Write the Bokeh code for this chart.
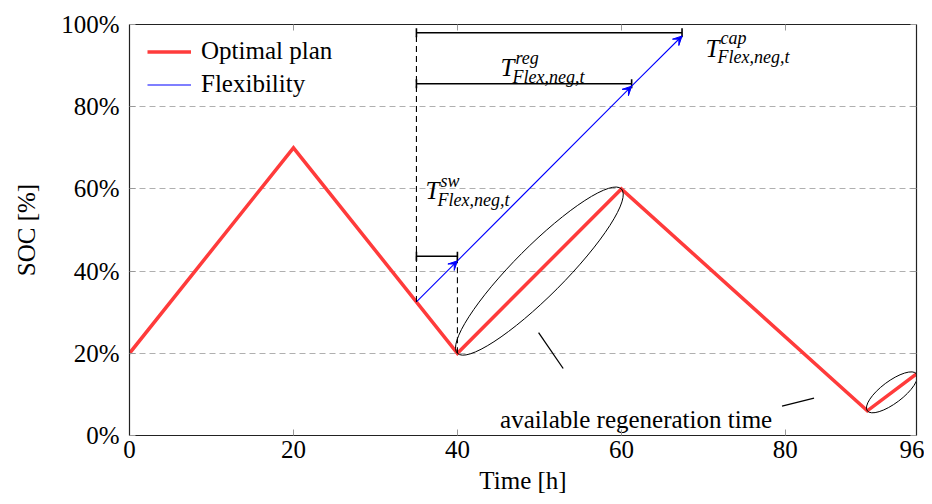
import math
from bokeh.plotting import figure
from bokeh.models import (Range1d, FixedTicker, LinearAxis, Legend, LegendItem,
                          Whisker, TeeHead, Arrow, VeeHead, ColumnDataSource)
from bokeh.core.properties import value
from bokeh.embed import file_html
from bokeh.resources import INLINE

# ---------------- data ----------------
plan_t = [0, 20, 40, 60, 90, 96]
plan_soc = [20, 70, 20, 60, 6, 15]

flex_t = [35, 40, 61.25, 67.4]
flex_soc = [32.5, 42.5, 85, 97.2]
flex_stub_t = [0, 1]
flex_stub_soc = [0, 0]

x_ticks = [0, 20, 40, 60, 80, 96]
x_tick_labels = ["0", "20", "40", "60", "80", "96"]
y_ticks = [0, 20, 40, 60, 80, 100]
y_tick_labels = ["0%", "20%", "40%", "60%", "80%", "100%"]
grid_ticks = [20, 40, 60, 80]

bracket_y = [98.0, 85.6, 43.6]
bracket_start = [35, 35, 35]
bracket_end = [67.4, 61.25, 40]

guide_x = [35, 40]
guide_y0 = [32.5, 20]
guide_y1 = [98.0, 43.6]

regen_x0 = [40, 90]
regen_y0 = [20, 6]
regen_x1 = [60, 96]
regen_y1 = [60, 15]

note_text = ["available regeneration time"]
note_x = [61.8]
note_y = [3.8]
pointer_x0 = [49.9, 79.6]
pointer_y0 = [25.05, 7.15]
pointer_x1 = [52.9, 83.5]
pointer_y1 = [16.3, 9.1]

math_base = ["T", "T", "T"]
math_sup = ["cap", "reg", "sw"]
math_sub = ["Flex,neg,t", "Flex,neg,t", "Flex,neg,t"]
math_x = [70.26, 45.25, 36.1]
math_y = [94.2, 89.5, 59.6]

# ---------------- figure ----------------
W, H = 924, 502
MB_L, MB_R, MB_T, MB_B = 129, 8, 24, 67
FONT = "Liberation Serif"

p = figure(width=W, height=H, x_range=Range1d(0, 96), y_range=Range1d(0, 100),
           output_backend="svg", toolbar_location=None,
           min_border_left=MB_L, min_border_right=MB_R,
           min_border_top=MB_T, min_border_bottom=MB_B)
p.outline_line_color = None
p.background_fill_color = "white"

SX = (W - MB_L - MB_R) / 96.0
SY = (H - MB_T - MB_B) / 100.0

def style_axis(ax, show_labels=True):
    ax.axis_line_color = "#222222"
    ax.axis_line_width = 1.2
    ax.major_tick_in = 6
    ax.major_tick_out = 0
    ax.major_tick_line_color = "#999999"
    ax.minor_tick_line_color = None
    ax.major_label_text_font = FONT
    if show_labels:
        ax.major_label_text_font_size = "25px"
        ax.major_label_text_color = "black"
    else:
        ax.major_label_text_font_size = "0px"
        ax.major_label_text_color = None
        ax.major_label_standoff = 0

xax = p.xaxis[0]
xax.ticker = FixedTicker(ticks=x_ticks)
xax.major_label_overrides = {t: s for t, s in zip(x_ticks, x_tick_labels)}
style_axis(xax)
xax.major_label_standoff = 5
xax.axis_label = "Time [h]"
xax.axis_label_text_font = FONT
xax.axis_label_text_font_size = "25px"
xax.axis_label_text_font_style = "normal"
xax.axis_label_text_color = "black"
xax.axis_label_standoff = 6

yax = p.yaxis[0]
yax.ticker = FixedTicker(ticks=y_ticks)
yax.major_label_overrides = {t: s for t, s in zip(y_ticks, y_tick_labels)}
style_axis(yax)
yax.major_label_standoff = 10
yax.axis_label = "SOC [%]"
yax.axis_label_text_font = FONT
yax.axis_label_text_font_size = "25px"
yax.axis_label_text_font_style = "normal"
yax.axis_label_text_color = "black"
yax.axis_label_standoff = 18

top = LinearAxis(ticker=FixedTicker(ticks=x_ticks))
style_axis(top, False)
p.add_layout(top, "above")
right = LinearAxis(ticker=FixedTicker(ticks=y_ticks))
style_axis(right, False)
p.add_layout(right, "right")

p.xgrid.visible = False
p.ygrid.ticker = FixedTicker(ticks=grid_ticks)
p.ygrid.grid_line_color = "#b0b0b0"
p.ygrid.grid_line_dash = "6 4"
p.ygrid.grid_line_width = 1

# ---------------- glyphs ----------------
r_plan = p.line(plan_t, plan_soc, line_color="#ff3b3b", line_width=3.5, line_join="miter")
r_stub = p.line(flex_stub_t, flex_stub_soc, line_color="blue", line_width=1.2)
p.line(flex_t, flex_soc, line_color="blue", line_width=1.1)

arr_src = ColumnDataSource(dict(x0=flex_t[:-1], y0=flex_soc[:-1], x1=flex_t[1:], y1=flex_soc[1:]))
p.add_layout(Arrow(source=arr_src, x_start="x0", y_start="y0", x_end="x1", y_end="y1",
                   line_alpha=0,
                   end=VeeHead(size=9, line_color="blue", fill_color="blue", line_width=1)))

# dashed guides
p.segment(guide_x, guide_y0, guide_x, guide_y1, line_color="black", line_dash="6 4", line_width=1.1)

# brackets
br_src = ColumnDataSource(dict(base=bracket_y, lower=bracket_start, upper=bracket_end))
p.add_layout(Whisker(source=br_src, base="base", lower="lower", upper="upper", dimension="width",
                     line_color="black", line_width=1.6,
                     lower_head=TeeHead(size=9, line_color="black", line_width=1.6),
                     upper_head=TeeHead(size=9, line_color="black", line_width=1.6)))

# ellipses around regeneration segments
ex, ey, ew, eh, ea = [], [], [], [], []
minor_px = [50, 22]
for x0, y0, x1, y1, m in zip(regen_x0, regen_y0, regen_x1, regen_y1, minor_px):
    dxs = (x1 - x0) * SX
    dys = (y1 - y0) * SY
    ex.append((x0 + x1) / 2)
    ey.append((y0 + y1) / 2)
    ew.append(math.hypot(dxs, dys))
    eh.append(m)
    ea.append(math.atan2(dys, dxs))
p.ellipse(x=ex, y=ey, width=ew, height=eh, angle=ea,
          width_units="screen", height_units="screen",
          fill_color=None, line_color="black", line_width=1)

# pointers and note
p.segment(pointer_x0, pointer_y0, pointer_x1, pointer_y1, line_color="black", line_width=1.3)
p.text(x=note_x, y=note_y, text=note_text, text_font=value(FONT), text_font_size="25px",
       text_align="center", text_baseline="alphabetic", text_color="black")

# math-like labels
p.text(x=math_x, y=math_y, text=math_base, text_font=value(FONT), text_font_size="25px",
       text_font_style="italic", text_align="left", text_baseline="alphabetic", text_color="black")
p.text(x=math_x, y=math_y, text=math_sup, text_font=value(FONT), text_font_size="18px",
       text_font_style="italic", text_align="left", text_baseline="alphabetic", text_color="black",
       x_offset=15, y_offset=-10)
p.text(x=math_x, y=math_y, text=math_sub, text_font=value(FONT), text_font_size="18px",
       text_font_style="italic", text_align="left", text_baseline="alphabetic", text_color="black",
       x_offset=12, y_offset=9)

# legend
legend = Legend(items=[LegendItem(label="Optimal plan", renderers=[r_plan]),
                       LegendItem(label="Flexibility", renderers=[r_stub])],
                location=(18, 334.5), glyph_width=44, glyph_height=33, label_height=33,
                spacing=0, padding=0, margin=0, label_standoff=10,
                border_line_alpha=0, background_fill_alpha=0,
                label_text_font=FONT, label_text_font_size="25px", label_text_color="black")
p.add_layout(legend)

open("out.html", "w").write(file_html(p, INLINE))
